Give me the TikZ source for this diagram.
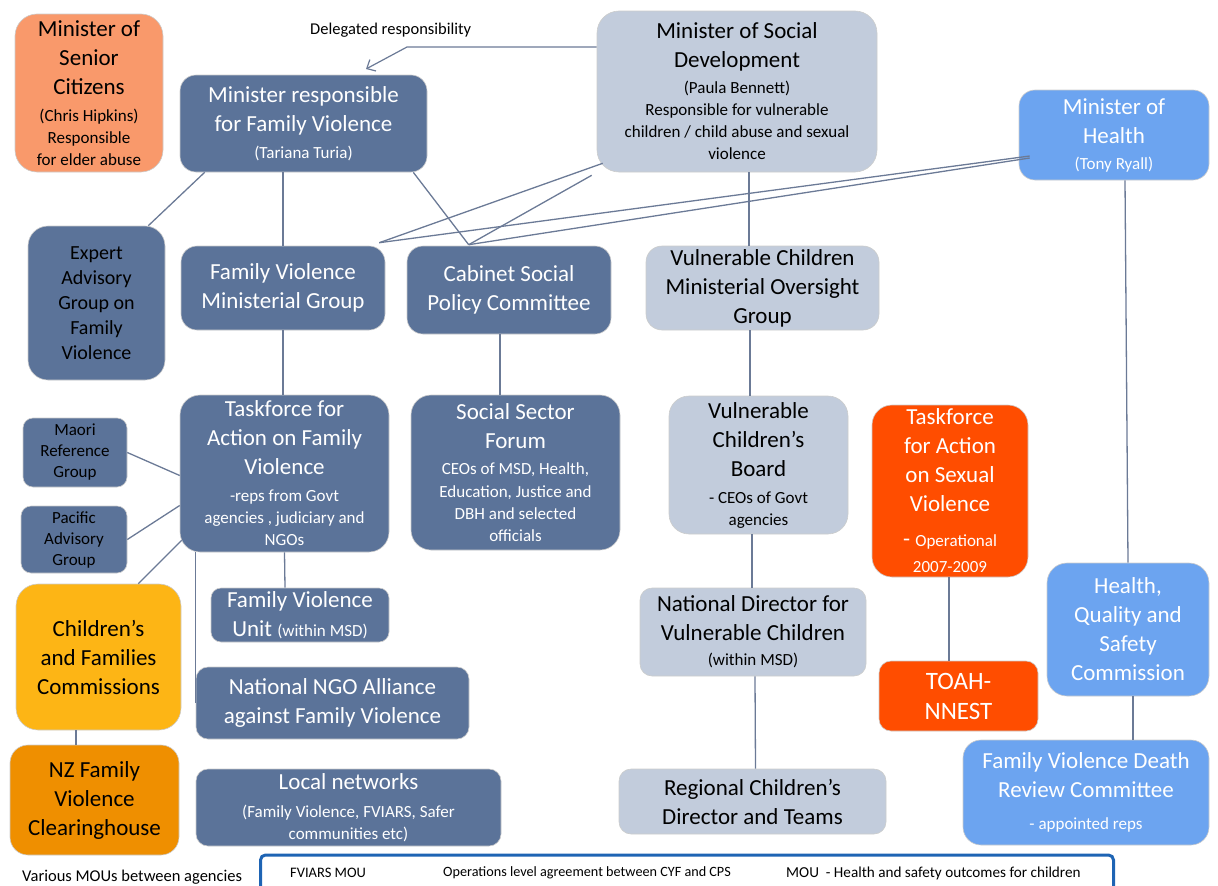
\documentclass[tikz,border=0pt]{standalone}
\usepackage{fontspec}
\setmainfont{Carlito}
\usetikzlibrary{calc,arrows.meta}
\definecolor{dk}{HTML}{5B7399}
\definecolor{lt}{HTML}{C2CCDC}
\definecolor{hb}{HTML}{6CA4F0}
\definecolor{salmon}{HTML}{F9996B}
\definecolor{redor}{HTML}{FF4D00}
\definecolor{yel}{HTML}{FDB515}
\definecolor{org}{HTML}{EF8F00}
\definecolor{lncol}{HTML}{6B7A96}
\definecolor{barblue}{HTML}{1E64B4}
\newcommand\fb{\fontsize{23}{29}\selectfont}
\newcommand\sml[1]{{\fontsize{17}{22}\selectfont #1}}
\newcommand\fm{\fontsize{20}{25}\selectfont}
\newcommand\fq{\fontsize{17}{21}\selectfont}
\begin{document}
\begin{tikzpicture}[x=1pt,y=-1pt,
  bx/.style={rounded corners=16pt, draw=gray!40, line width=0.6pt, align=center, inner sep=0pt, font=\fb},
  dkb/.style={bx, fill=dk, text=white},
  ltb/.style={bx, fill=lt, text=black},
  hbb/.style={bx, fill=hb, text=white},
  conn/.style={draw=lncol, line width=1.3pt},
  lbl/.style={inner sep=0pt, anchor=west}]
\useasboundingbox (0,0) rectangle (1218,886);

% boxes
\node[bx, fill=salmon, text=black, rounded corners=22pt, minimum width=148pt, minimum height=158pt] (sen) at (89,93)
  {Minister of\\Senior\\Citizens\\[-2pt]\sml{(Chris Hipkins)}\\[-7pt]\sml{Responsible}\\[-7pt]\sml{for elder abuse}};
\node[dkb, minimum width=247pt, minimum height=97pt] (mfv) at (303.5,123.5)
  {Minister responsible\\for Family Violence\\[-2pt]\sml{(Tariana Turia)}};
\node[ltb, rounded corners=22pt, minimum width=280pt, minimum height=161pt] (sd) at (737,91.5)
  {Minister of Social\\Development\\[-3pt]\sml{(Paula Bennett)}\\[-7pt]\sml{Responsible for vulnerable}\\[-7pt]\sml{children / child abuse and sexual}\\[-7pt]\sml{violence}};
\node[hbb, minimum width=190pt, minimum height=90pt] (mh) at (1114,135)
  {Minister of\\Health\\[-3pt]\sml{(Tony Ryall)}};
\node[dkb, text=black, font=\fm, rounded corners=20pt, minimum width=137pt, minimum height=154pt] (exp) at (96.5,303)
  {Expert\\Advisory\\Group on\\Family\\Violence};
\node[dkb, minimum width=204pt, minimum height=84pt] (fvmg) at (283,288)
  {Family Violence\\Ministerial Group};
\node[dkb, minimum width=204pt, minimum height=88pt] (cab) at (509,290)
  {Cabinet Social\\Policy Committee};
\node[ltb, minimum width=233pt, minimum height=84pt] (vcmo) at (762.5,288)
  {Vulnerable Children\\Ministerial Oversight\\Group};
\node[dkb, rounded corners=20pt, minimum width=209pt, minimum height=157pt] (tfv) at (284.5,473.5)
  {Taskforce for\\Action on Family\\Violence\\[-2pt]\sml{-reps from Govt}\\[-7pt]\sml{agencies , judiciary and}\\[-7pt]\sml{NGOs}};
\node[dkb, rounded corners=20pt, minimum width=209pt, minimum height=155pt] (ssf) at (515.5,472.5)
  {Social Sector\\Forum\\[-3pt]\sml{CEOs of MSD, Health,}\\[-6pt]\sml{Education, Justice and}\\[-7pt]\sml{DBH and selected}\\[-7pt]\sml{officials}};
\node[ltb, rounded corners=20pt, minimum width=179pt, minimum height=138pt] (vcb) at (758.5,465)
  {Vulnerable\\Children’s\\Board\\[-2pt]\sml{- CEOs of Govt}\\[-7pt]\sml{agencies}};
\node[bx, fill=redor, text=white, rounded corners=20pt, minimum width=156pt, minimum height=172pt] (tasv) at (950,491)
  {Taskforce\\for Action\\on Sexual\\Violence\\[6pt]- \sml{Operational}\\[-3pt]\sml{2007-2009}};
\node[dkb, text=black, font=\fq, rounded corners=10pt, minimum width=104pt, minimum height=69pt] (mrg) at (75,452.5)
  {Maori\\Reference\\Group};
\node[dkb, text=black, font=\fq, rounded corners=10pt, minimum width=106pt, minimum height=67pt] (pag) at (74,539.5)
  {Pacific\\Advisory\\Group};
\node[bx, fill=yel, text=black, rounded corners=22pt, minimum width=165pt, minimum height=146pt] (cfc) at (98.5,657)
  {Children’s\\and Families\\Commissions};
\node[dkb, rounded corners=10pt, minimum width=178pt, minimum height=54pt] (fvu) at (300,615)
  {Family Violence\\Unit \sml{(within MSD)}};
\node[dkb, rounded corners=12pt, minimum width=273pt, minimum height=72pt] (ngo) at (332.5,703)
  {National NGO Alliance\\against Family Violence};
\node[bx, fill=org, text=black, rounded corners=18pt, minimum width=169pt, minimum height=110pt] (nzc) at (94.5,800)
  {NZ Family\\Violence\\Clearinghouse};
\node[dkb, rounded corners=12pt, minimum width=305pt, minimum height=77pt] (ln) at (348.5,807.5)
  {Local networks\\[-1pt]\sml{(Family Violence, FVIARS, Safer}\\[-7pt]\sml{communities etc)}};
\node[ltb, rounded corners=12pt, minimum width=226pt, minimum height=88pt] (nd) at (753,632)
  {National Director for\\Vulnerable Children\\[-4pt]\sml{(within MSD)}};
\node[ltb, rounded corners=12pt, minimum width=267pt, minimum height=65pt] (rc) at (752.5,801.5)
  {Regional Children’s\\Director and Teams};
\node[bx, fill=redor, text=white, rounded corners=12pt, font=\fontsize{25}{30}\selectfont, minimum width=159pt, minimum height=70pt] (toah) at (958.5,696)
  {TOAH-\\NNEST};
\node[hbb, rounded corners=20pt, minimum width=162pt, minimum height=133pt] (hq) at (1128,629.5)
  {Health,\\Quality and\\Safety\\Commission};
\node[hbb, rounded corners=18pt, minimum width=246pt, minimum height=105pt] (fvd) at (1086,792.5)
  {Family Violence Death\\Review Committee\\[3pt]\sml{- appointed reps}};

% bottom bar
\node[draw=barblue, line width=3pt, rounded corners=5pt, minimum width=853pt, minimum height=42pt, inner sep=0pt] (mou) at (687,876) {};
\node[lbl, font=\fontsize{14.5}{17}\selectfont] (m1) at (290,873) {FVIARS MOU};
\node[lbl, font=\fontsize{14.2}{17}\selectfont] (m2) at (443,873) {Operations level agreement between CYF and CPS};
\node[lbl, font=\fontsize{15.2}{17}\selectfont] (m3) at (786,873) {MOU\ \ - Health and safety outcomes for children};
\node[lbl, font=\fontsize{16.5}{19}\selectfont] (various) at (22,877) {Various MOUs between agencies};

% delegated responsibility
\node[lbl, font=\fontsize{16.5}{19}\selectfont] (del) at (310,30) {Delegated responsibility};
\coordinate (d1) at (407,47);
\coordinate (d2) at (366,69);
\draw[conn, line width=1.2pt, -{Straight Barb[length=7pt,width=13pt]}] (sd.west |- d1) -- (d1) -- (d2);

% connectors
\draw[conn] ($(mfv.south west)+(25,0)$) -- ($(exp.north east)+(-17,0)$);
\draw[conn] (fvmg.north |- mfv.south) -- (fvmg.north);
\draw[conn] ($(mfv.south east)+(-14,0)$) -- ($(cab.north west)+(62,-1)$);
\coordinate (pfv) at ($(fvmg.north east)+(-6,-3)$);
\coordinate (pcab) at ($(cab.north west)+(62,-1)$);
\draw[conn] ($(sd.south west)+(6,-9)$) -- (pfv);
\draw[conn] ($(sd.south west)+(-5,3)$) -- (pcab);
\draw[conn] ($(mh.west)+(11,21)$) -- (pfv);
\draw[conn] ($(mh.west)+(11,23)$) -- (pcab);
\draw[conn] ($(sd.south)+(12,0)$) -- ($(vcmo.north)+(-13.5,0)$);
\draw[conn] ($(cab.south)+(-9,0)$) -- ($(ssf.north)+(-15.5,0)$);
\draw[conn] (fvmg.south) -- (fvmg.south |- tfv.north);
\draw[conn] ($(vcmo.south)+(-12.5,0)$) -- ($(vcb.north)+(-8.5,0)$);
\draw[conn] ($(vcb.south)+(-6.5,0)$) -- ($(nd.north)+(-1,0)$);
\draw[conn] ($(nd.south)+(2,0)$) -- ($(rc.north)+(3,0)$);
\draw[conn] (tfv.south) -- ($(fvu.north)+(-15,0)$);
\draw[conn] ($(tfv.west)+(0,2)$) -- (mrg.east);
\draw[conn] ($(tfv.west)+(0,32)$) -- (pag.east);
\draw[conn] ($(tfv.south west)+(2,-12)$) -- ($(cfc.north east)+(-43,0)$);
\draw[conn] ($(tfv.south west)+(16,0)$) -- (ngo.west);
\draw[conn] ($(cfc.south)+(-22.5,0)$) -- ($(nzc.north)+(-18.5,0)$);
\draw[conn] ($(tasv.south)+(-1,0)$) -- ($(toah.north)+(-9.5,0)$);
\draw[conn] ($(mh.south)+(11,0)$) -- (hq.north);
\draw[conn] ($(hq.south)+(5,0)$) -- ($(fvd.north)+(47,0)$);
\end{tikzpicture}
\end{document}
